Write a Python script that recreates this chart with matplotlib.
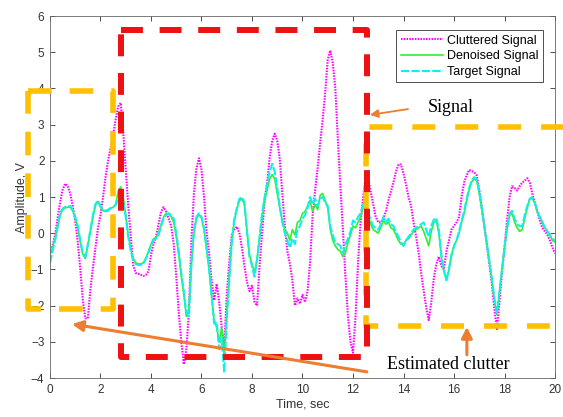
"""
Cluttered / denoised / target signal with highlighted regions
"""

import numpy as np
import matplotlib
matplotlib.use('Agg')
import matplotlib.pyplot as plt

plt.rcParams['font.family'] = ['Liberation Sans', 'DejaVu Sans']
plt.rcParams['lines.scale_dashes'] = False

# time axis, 0.1 s steps
tempo = np.round(np.arange(0, 20.05, 0.1), 1)

# cluttered signal (magenta, dotted)
cluttered = [
    -0.55, -0.35, -0.05, 0.4, 0.85, 1.2, 1.37, 1.3, 1.1, 0.75,
    0.35, -0.25, -1.0, -1.85, -2.35, -2.35, -1.55, -0.95, -0.4, 0.15,
    0.5, 1.0, 1.55, 2.0, 2.35, 2.7, 3.15, 3.5, 3.6, 2.8,
    1.75, 0.75, -0.1, -0.9, -1.1, -1.12, -1.15, -1.18, -1.15, -1.05,
    -0.6, -0.3, -0.1, 0.25, 0.6, 0.72, 0.6, 0.4, 0.2, -0.3,
    -1.2, -2.2, -3.0, -3.62, -3.2, -2.2, -0.2, 1.1, 1.8, 2.07,
    1.75, 1.0, 0.05, -0.55, -1.3, -1.85, -1.4, -1.9, -2.6, -3.15,
    -1.7, -0.8, -0.05, 0.1, 0.18, 0.0, -0.4, -0.9, -1.35, -1.6,
    -1.45, -1.9, -2.0, -0.9, 0.0, 0.9, 1.4, 2.1, 2.55, 2.75,
    2.55, 2.05, 1.1, 0.2, -0.5, -0.85, -1.3, -2.0, -1.8, -1.95,
    -1.7, -1.9, -1.6, -0.8, 0.5, 1.2, 1.8, 2.5, 3.15, 3.9,
    4.8, 5.05, 4.7, 4.0, 2.6, 1.3, 0.1, -1.2, -2.3, -3.0,
    -3.3, -2.3, -0.8, 0.3, 1.0, 1.55, 1.5, 1.15, 0.8, 0.45,
    0.3, 0.3, 0.4, 0.6, 0.9, 1.15, 1.4, 1.7, 1.9, 1.9,
    1.65, 1.35, 1.0, 0.75, 0.3, -0.1, -0.55, -1.1, -1.6, -2.05,
    -2.4, -1.9, -1.25, -0.85, -0.65, -0.9, -1.0, -0.5, -0.2, 0.1,
    0.2, 0.3, 0.45, 1.0, 1.4, 1.6, 1.75, 1.72, 1.68, 1.6,
    1.2, 0.7, 0.2, -0.3, -0.85, -1.4, -2.1, -2.65, -1.9, -1.1,
    -0.4, 0.35, 1.0, 1.3, 1.25, 1.18, 1.3, 1.4, 1.45, 1.52,
    1.4, 1.1, 0.83, 0.6, 0.35, 0.15, 0.05, -0.05, -0.2, -0.4,
    -0.56,
]

# denoised signal (green, solid)
denoised = [
    -0.6, -0.4, -0.15, 0.2, 0.5, 0.65, 0.7, 0.72, 0.72, 0.62,
    0.42, 0.15, -0.25, -0.58, -0.7, -0.35, 0.05, 0.45, 0.78, 0.88,
    0.72, 0.62, 0.6, 0.62, 0.68, 0.72, 0.8, 1.15, 1.28, 1.0,
    0.5, -0.05, -0.45, -0.7, -0.82, -0.85, -0.84, -0.82, -0.68, -0.5,
    -0.3, -0.15, -0.12, 0.0, 0.25, 0.45, 0.55, 0.55, 0.45, 0.3,
    -0.1, -0.6, -1.2, -1.7, -2.3, -2.1, -0.9, 0.0, 0.4, 0.52,
    0.42, 0.1, -0.45, -1.0, -1.75, -2.4, -2.6, -3.0, -2.6, -3.4,
    -2.2, -1.2, -0.25, 0.35, 0.65, 0.9, 0.95, 0.8, 0.1, -0.6,
    -0.85, -1.1, -0.7, -0.15, 0.45, 0.9, 1.2, 1.5, 1.62, 1.5,
    1.1, 0.7, 0.35, 0.1, 0.0, -0.2, 0.1, -0.05, 0.3, 0.35,
    0.55, 0.6, 0.75, 0.9, 0.6, 0.8, 0.65, 1.05, 1.1, 0.9,
    0.7, 0.1, -0.2, -0.35, -0.45, -0.5, -0.65, -0.55, -0.25, -0.05,
    0.2, 0.15, 0.3, 0.45, 0.7, 0.8, 0.5, 0.25, 0.1, 0.05,
    0.0, 0.15, 0.35, 0.25, 0.3, 0.15, 0.1, -0.05, -0.2, -0.3,
    -0.3, -0.2, -0.15, -0.05, 0.05, 0.1, 0.15, 0.2, 0.05, -0.15,
    -0.35, 0.05, 0.3, 0.35, 0.0, -0.65, -1.05, -1.3, -1.0, -0.6,
    -0.35, -0.2, 0.0, 0.3, 0.55, 0.9, 1.2, 1.42, 1.5, 1.45,
    1.1, 0.65, 0.2, -0.3, -0.8, -1.3, -1.85, -2.25, -1.65, -1.0,
    -0.4, 0.1, 0.5, 0.55, 0.3, 0.15, 0.05, 0.1, 0.4, 0.7,
    0.95, 0.95, 0.85, 0.6, 0.45, 0.3, 0.15, 0.05, -0.05, -0.2,
    -0.25,
]

# target signal (cyan, dashed)
target = [
    -0.83, -0.5, -0.2, 0.15, 0.55, 0.68, 0.73, 0.74, 0.75, 0.65,
    0.45, 0.2, -0.2, -0.55, -0.65, -0.3, 0.1, 0.5, 0.8, 0.9,
    0.75, 0.65, 0.62, 0.65, 0.7, 0.72, 0.78, 0.95, 1.05, 0.85,
    0.45, -0.1, -0.5, -0.75, -0.85, -0.88, -0.87, -0.85, -0.7, -0.55,
    -0.35, -0.18, -0.15, -0.05, 0.2, 0.4, 0.5, 0.55, 0.5, 0.4,
    0.0, -0.5, -1.1, -1.6, -2.2, -2.3, -0.8, 0.1, 0.45, 0.55,
    0.45, 0.15, -0.4, -0.95, -1.7, -2.5, -2.45, -3.2, -2.9, -3.85,
    -2.4, -1.3, -0.2, 0.4, 0.7, 0.95, 1.0, 0.85, 0.05, -0.65,
    -0.9, -1.2, -0.75, -0.1, 0.55, 1.0, 1.35, 1.7, 1.92, 1.7,
    1.25, 0.75, 0.3, 0.0, -0.2, -0.4, -0.15, -0.3, 0.1, 0.2,
    0.4, 0.5, 0.7, 1.0, 0.8, 0.95, 0.75, 0.95, 1.0, 0.85,
    0.75, 0.2, -0.05, -0.25, -0.3, -0.35, -0.55, -0.3, -0.15, 0.05,
    0.35, 0.3, 0.45, 0.55, 0.8, 0.88, 0.6, 0.35, 0.2, 0.15,
    0.1, 0.25, 0.45, 0.3, 0.4, 0.25, 0.2, 0.05, -0.1, -0.25,
    -0.35, -0.2, -0.1, 0.0, 0.1, 0.15, 0.2, 0.25, 0.3, 0.1,
    -0.1, 0.2, 0.38, 0.42, 0.1, -0.6, -1.0, -1.3, -1.0, -0.6,
    -0.35, -0.2, 0.05, 0.35, 0.6, 0.95, 1.25, 1.45, 1.55, 1.5,
    1.15, 0.7, 0.2, -0.3, -0.75, -1.25, -1.8, -2.2, -1.6, -1.0,
    -0.4, 0.15, 0.55, 0.62, 0.4, 0.25, 0.2, 0.2, 0.5, 0.75,
    0.95, 1.0, 0.85, 0.6, 0.45, 0.3, 0.15, 0.05, -0.05, -0.15,
    -0.2,
]

# highlighted regions (data coordinates)
caixa_sinal = (2.81, 12.55, -3.42, 5.61)      # x0, x1, y0, y1
caixa_esq = (-0.87, 2.5, -2.09, 3.93)
caixa_dir = (12.5, 21.0, -2.56, 2.93)

COR_SETA = '#ED7D31'
COR_LARANJA = '#FFC000'
COR_VERMELHO = '#EE1111'


def retangulo(ax, caixa, cor, dashes, lw, fechado=True):
    x0, x1, y0, y1 = caixa
    if fechado:
        xs = [x0, x1, x1, x0, x0]
        ys = [y1, y1, y0, y0, y1]
    else:
        xs = [x1, x0, x0, x1]
        ys = [y1, y1, y0, y0]
    ax.plot(xs, ys, color=cor, lw=lw, dashes=dashes, clip_on=False,
            solid_capstyle='butt', dash_capstyle='butt', zorder=5)


def seta(ax, cauda, cabeca, lw, escala):
    ax.annotate('', xy=cabeca, xytext=cauda, annotation_clip=False,
                arrowprops=dict(arrowstyle='-|>', color=COR_SETA, lw=lw,
                                mutation_scale=escala, shrinkA=0, shrinkB=0),
                zorder=6)


fig = plt.figure(figsize=(5.63, 4.17), dpi=100)
ax = fig.add_axes([0.0888, 0.0935, 0.897, 0.868])

ax.plot(tempo, cluttered, color='#FF00FF', lw=1.5, dashes=(1.1, 0.9),
        label='Cluttered Signal')
ax.plot(tempo, denoised, color='#33EE33', lw=1.2, label='Denoised Signal')
ax.plot(tempo, target, color='#11EEEE', lw=1.5, dashes=(6, 1.5),
        label='Target Signal')

ax.set_xlim(0, 20)
ax.set_ylim(-4, 6)
ax.set_xticks(np.arange(0, 21, 2))
ax.set_yticks(np.arange(-4, 7, 1))
ax.tick_params(direction='in', top=True, right=True, length=3.5, width=0.6,
               labelsize=8.5, colors='#333333', pad=4)
for s in ax.spines.values():
    s.set_color('#666666')
    s.set_linewidth(0.6)

ax.set_xlabel('Time, sec', fontsize=9, color='#333333', labelpad=2)
ax.set_ylabel('Amplitude, V', fontsize=9, color='#333333', labelpad=2)

leg = ax.legend(loc='upper right', bbox_to_anchor=(0.976, 0.961), fontsize=9,
                fancybox=False, framealpha=1, edgecolor='#333333',
                handlelength=3.4, labelspacing=0.3, borderpad=0.35,
                handletextpad=0.3, borderaxespad=0)
leg.get_frame().set_linewidth(0.6)
leg.set_zorder(7)

# caixas tracejadas
retangulo(ax, caixa_esq, COR_LARANJA, (17, 13), 4.0)
retangulo(ax, caixa_dir, COR_LARANJA, (16.5, 14.4), 4.0, fechado=False)
retangulo(ax, caixa_sinal, COR_VERMELHO, (15.8, 12), 4.3)

# setas e textos
seta(ax, (14.18, 3.43), (12.67, 3.27), 1.3, 12)
seta(ax, (12.55, -3.83), (0.87, -2.51), 2.2, 16)
seta(ax, (16.51, -3.36), (16.51, -2.59), 2.2, 16)

ax.text(14.97, 3.46, 'Signal', family=['Liberation Serif', 'DejaVu Serif'],
        fontsize=13, va='center', ha='left', zorder=6)
ax.text(13.35, -3.64, 'Estimated clutter',
        family=['Liberation Serif', 'DejaVu Serif'], fontsize=13,
        va='center', ha='left', zorder=6)

plt.savefig('out.png', dpi=100)
plt.close()
